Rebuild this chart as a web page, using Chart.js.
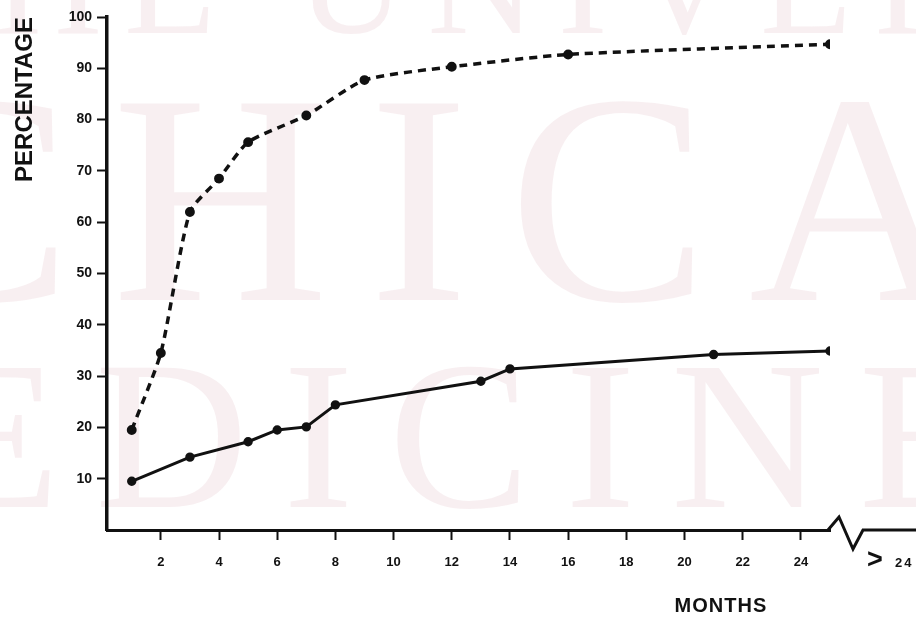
<!DOCTYPE html>
<html>
<head>
<meta charset="utf-8">
<script src="https://cdn.jsdelivr.net/npm/chart.js@4"></script>
<style>
  html, body { margin: 0; padding: 0; background: #fff; }
  #wrap { width: 916px; height: 619px; position: relative; }
</style>
</head>
<body>
<div id="wrap"><canvas id="chart"></canvas></div>
<script>
// --- data ---
const yTicks = [10, 20, 30, 40, 50, 60, 70, 80, 90, 100];
const xTicks = [2, 4, 6, 8, 10, 12, 14, 16, 18, 20, 22, 24];

// dashed curve
const dashedMonths = [1, 2, 3, 4, 5, 7, 9, 12, 16, 25];
const dashedValues = [19.5, 34.5, 62, 68.5, 75.6, 80.8, 87.7, 90.3, 92.7, 94.7];

// solid curve
const solidMonths = [1, 3, 5, 6, 7, 8, 13, 14, 21, 25];
const solidValues = [9.5, 14.2, 17.2, 19.5, 20.1, 24.4, 29, 31.4, 34.2, 34.9];

const ink = '#111';
const toPoints = (xs, ys) => xs.map((x, i) => ({ x: x, y: ys[i] }));

// faint scanned watermark behind the plot
const watermark = {
    id: 'watermark',
    beforeDraw(chart) {
        const ctx = chart.ctx;
        ctx.save();
        ctx.fillStyle = 'rgba(205, 140, 155, 0.14)';
        ctx.textBaseline = 'alphabetic';
        ctx.font = '150px "Liberation Serif"';
        ctx.letterSpacing = '22px';
        ctx.fillText('THE UNIVERSITY OF', -120, 33);
        ctx.font = '300px "Liberation Serif"';
        ctx.letterSpacing = '40px';
        ctx.fillText('CHICAGO', -128, 300);
        ctx.font = '212px "Liberation Serif"';
        ctx.letterSpacing = '35px';
        ctx.fillText('MEDICINE', -293, 507);
        ctx.restore();
    }
};

// broken x axis, the ">24" label and the MONTHS title
const axisExtras = {
    id: 'axisExtras',
    afterDraw(chart) {
        const ctx = chart.ctx;
        const xs = chart.scales.x;
        const ys = chart.scales.y;
        const y0 = ys.getPixelForValue(0);
        const xEnd = xs.getPixelForValue(xs.max);
        ctx.save();
        ctx.strokeStyle = ink;
        ctx.lineWidth = 3;
        ctx.lineJoin = 'miter';
        ctx.beginPath();
        ctx.moveTo(xEnd - 2, y0);
        ctx.lineTo(xEnd + 9, y0 - 13);
        ctx.lineTo(xEnd + 23, y0 + 19);
        ctx.lineTo(xEnd + 33, y0);
        ctx.lineTo(chart.width, y0);
        ctx.stroke();

        ctx.fillStyle = ink;
        ctx.textBaseline = 'middle';
        ctx.font = 'bold 27px "Liberation Sans"';
        ctx.fillText('>', xEnd + 37, y0 + 31);
        ctx.font = 'bold 13px "Liberation Sans"';
        ctx.letterSpacing = '2px';
        ctx.fillText('24', xEnd + 65, y0 + 33);

        ctx.font = 'bold 20px "Liberation Sans"';
        ctx.letterSpacing = '1px';
        ctx.textAlign = 'center';
        ctx.fillText('MONTHS', xs.getPixelForValue(21.25), 606);
        ctx.restore();
    }
};

new Chart(document.getElementById('chart'), {
    type: 'line',
    data: {
        datasets: [{
            label: 'dashed',
            data: toPoints(dashedMonths, dashedValues),
            borderColor: ink,
            backgroundColor: ink,
            borderWidth: 3.5,
            borderDash: [8, 6],
            pointRadius: 3.2,
            tension: 0.2,
            fill: false
        }, {
            label: 'solid',
            data: toPoints(solidMonths, solidValues),
            borderColor: ink,
            backgroundColor: ink,
            borderWidth: 3,
            pointRadius: 3.2,
            tension: 0,
            fill: false
        }]
    },
    options: {
        responsive: true,
        maintainAspectRatio: false,
        animation: false,
        layout: { padding: { top: 17, right: 86, bottom: 0, left: 0 } },
        plugins: { legend: { display: false }, tooltip: { enabled: false } },
        scales: {
            x: {
                type: 'linear',
                min: 0.15,
                max: 25,
                afterBuildTicks: (s) => { s.ticks = xTicks.map(v => ({ value: v })); },
                afterFit: (s) => { s.height = 89; },
                grid: { drawOnChartArea: false, drawTicks: true, tickLength: 10, tickWidth: 2, color: ink },
                border: { color: ink, width: 3 },
                ticks: {
                    color: ink,
                    padding: 15,
                    maxRotation: 0,
                    font: { family: 'Liberation Sans', weight: 'bold', size: 13 }
                }
            },
            y: {
                min: 0,
                max: 100,
                afterBuildTicks: (s) => { s.ticks = yTicks.map(v => ({ value: v })); },
                afterFit: (s) => { s.width = 107; },
                grid: { drawOnChartArea: false, drawTicks: true, tickLength: 10, tickWidth: 2, color: ink },
                border: { color: ink, width: 3.5 },
                title: {
                    display: true,
                    text: 'PERCENTAGE',
                    align: 'end',
                    color: ink,
                    padding: { top: 11, bottom: 0 },
                    font: { family: 'Liberation Sans', weight: 'bold', size: 24 }
                },
                ticks: {
                    color: ink,
                    padding: 5,
                    font: { family: 'Liberation Sans', weight: 'bold', size: 14 }
                }
            }
        }
    },
    plugins: [watermark, axisExtras]
});
</script>
</body>
</html>
